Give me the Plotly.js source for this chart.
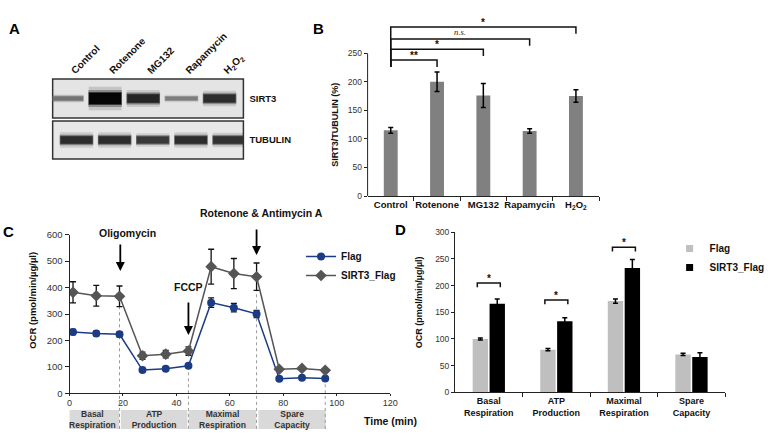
<!DOCTYPE html>
<html><head><meta charset="utf-8">
<script src="https://cdn.plot.ly/plotly-3.0.1.min.js"></script>
<style>html,body{margin:0;padding:0;background:#fff}#chart{width:770px;height:434px}</style>
</head><body><div id="chart"></div>
<script>
// ---------- Panel A : western blot (relative band intensities) ----------
const lanes = ['Control', 'Rotenone', 'MG132', 'Rapamycin', 'H<sub>2</sub>O<sub>2</sub>'];
const sirt3Band = [0.35, 1.0, 0.8, 0.3, 0.75];
const tubulinBand = [0.75, 0.75, 0.68, 0.75, 0.72];

// ---------- Panel B : SIRT3/TUBULIN (%) ----------
const treatments = ['Control', 'Rotenone', 'MG132', 'Rapamycin', 'H<sub>2</sub>O<sub>2</sub>'];
const sirt3Ratio = [115, 200, 176, 114, 175];
const sirt3RatioErr = [5, 17, 21, 4, 11];
const sigPairsB = ['Rotenone', 'MG132', 'Rapamycin', 'H<sub>2</sub>O<sub>2</sub>'];
const sigLabelsB = ['**', '*', '<i>n.s.</i>', '*'];

// ---------- Panel C : OCR time course ----------
const timeMin = [1.3, 10, 18.7, 27.3, 36, 44.5, 53, 61.5, 70, 78.5, 87, 95.7];
const flagOCR = [232, 226, 223, 88, 93, 104, 343, 324, 300, 55, 59, 56];
const flagOCRErr = [10, 9, 9, 5, 6, 6, 18, 16, 14, 4, 4, 4];
const sirt3OCR = [382, 369, 367, 142, 148, 160, 479, 453, 441, 91, 94, 87];
const sirt3OCRErr = [40, 39, 39, 14, 14, 16, 66, 57, 52, 6, 6, 5];
const phases = ['Basal<br>Respiration', 'ATP<br>Production', 'Maximal<br>Respiration', 'Spare<br>Capacity'];
const phaseStart = [-1.5, 19.2, 44.6, 70.7];
const phaseEnd = [18.6, 44.1, 69.9, 95.9];
const injections = ['Oligomycin', 'FCCP', 'Rotenone & Antimycin A'];
const injectionTime = [19, 44.5, 70];

// ---------- Panel D : OCR summary ----------
const measures = ['Basal<br>Respiration', 'ATP<br>Production', 'Maximal<br>Respiration', 'Spare<br>Capacity'];
const flagD = [100, 80, 171, 71];
const flagDErr = [2, 2, 4, 2];
const sirt3D = [166, 133, 233, 66];
const sirt3DErr = [9, 7, 16, 8];
const sigLabelsD = ['*', '*', '*', ''];

// ---------- helpers ----------
const W = 770, H = 434;
const px = v => v / W;
const py = v => 1 - v / H;
const FONT = 'Liberation Sans, Arial, Helvetica, sans-serif';
const bold = (size, color) => ({family: FONT, size: size, color: color || '#111', weight: 'bold'});
const plain = (size, color) => ({family: FONT, size: size, color: color || '#333'});

const bandThick = v => 0.15 + 0.45 * v * v;
const bandGray = v => Math.round(200 - 195 * Math.pow(v, 0.8));
const bandColor = (v, a) => { const g = bandGray(v); return `rgba(${g},${g},${g},${a})`; };
const laneIdx = lanes.map((_, i) => i);

const traces = [];

// Panel A bands: blurred edge layers + core
const blurLayers = [{k: 2.0, w: 0.86, a: 0.14}, {k: 1.45, w: 0.88, a: 0.3}, {k: 1.0, w: 0.84, a: 1}];
[[sirt3Band, 'y'], [tubulinBand, 'y2']].forEach(([band, ya]) => {
  blurLayers.forEach(L => {
    traces.push({
      type: 'bar', xaxis: 'x', yaxis: ya, x: laneIdx, offsetgroup: 'blot' + ya,
      y: band.map(v => bandThick(v) * L.k), base: band.map(v => -bandThick(v) * L.k / 2),
      width: L.w,
      marker: {color: band.map(v => bandColor(v, L.a)),
        line: L.a === 1 ? {color: band.map(v => bandColor(v, 0.5)), width: 1.5} : {width: 0}},
      showlegend: false, hoverinfo: 'skip'
    });
  });
});

// Panel B bars
const treatIdx = treatments.map((_, i) => i);
traces.push({
  type: 'bar', xaxis: 'x2', yaxis: 'y3', x: treatIdx, y: sirt3Ratio, width: 0.3,
  marker: {color: '#808080'},
  error_y: {type: 'data', array: sirt3RatioErr, color: '#000', thickness: 1.5, width: 2.5},
  showlegend: false, hoverinfo: 'skip'
});
// Panel B brackets
const bracketHeightB = [238, 257, 275, 296];
const bracketDrop = 12;
sigPairsB.forEach((name, k) => {
  const j = treatments.indexOf(name);
  const h = bracketHeightB[k];
  traces.push({
    type: 'scatter', mode: 'lines', xaxis: 'x2', yaxis: 'y3',
    x: [0, 0, j, j], y: [bracketHeightB[0] - bracketDrop, h, h, h - bracketDrop],
    line: {color: '#111', width: 1.5}, showlegend: false, hoverinfo: 'skip'
  });
});

// Panel C guides (dotted)
const guideIdx = [2, 5, 8, 11];
const guideTop = [328, 104, 389, 56];
const gx = [], gy = [], gx2 = [], gy2 = [];
guideIdx.forEach((i, k) => {
  gx.push(timeMin[i], timeMin[i], null); gy.push(0, guideTop[k], null);
  gx2.push(timeMin[i], timeMin[i], null); gy2.push(0.03, 1, null);
});
traces.push({type: 'scatter', mode: 'lines', xaxis: 'x3', yaxis: 'y4', x: gx, y: gy,
  line: {color: '#9a9a9a', width: 1, dash: 'dot'}, showlegend: false, hoverinfo: 'skip'});
traces.push({type: 'scatter', mode: 'lines', xaxis: 'x4', yaxis: 'y5', x: gx2, y: gy2,
  line: {color: '#9a9a9a', width: 1, dash: 'dot'}, showlegend: false, hoverinfo: 'skip'});
// Phase boxes
const phaseMid = phaseStart.map((s, i) => (s + phaseEnd[i]) / 2);
const phaseLen = phaseStart.map((s, i) => phaseEnd[i] - s);
traces.push({type: 'bar', xaxis: 'x4', yaxis: 'y5', x: phaseMid, width: phaseLen,
  y: phases.map(() => 0.518), base: phases.map(() => 0.027), cliponaxis: false,
  marker: {color: '#d9d9d9'}, textposition: 'none', showlegend: false, hoverinfo: 'skip'});
traces.push({type: 'scatter', mode: 'text', xaxis: 'x4', yaxis: 'y5', x: phaseMid,
  y: phases.map(() => 0.26), text: phases, textfont: bold(8.5, '#333'), cliponaxis: false,
  showlegend: false, hoverinfo: 'skip'});
// OCR lines
traces.push({
  type: 'scatter', mode: 'lines+markers', name: 'Flag', legend: 'legend',
  xaxis: 'x3', yaxis: 'y4', x: timeMin, y: flagOCR,
  line: {color: '#1c3b85', width: 1.5}, marker: {symbol: 'circle', size: 8, color: '#1c3b85'},
  error_y: {type: 'data', array: flagOCRErr, color: '#111', thickness: 1.3, width: 3},
  hoverinfo: 'skip'
});
traces.push({
  type: 'scatter', mode: 'lines+markers', name: 'SIRT3_Flag', legend: 'legend',
  xaxis: 'x3', yaxis: 'y4', x: timeMin, y: sirt3OCR,
  line: {color: '#555555', width: 1.5}, marker: {symbol: 'diamond', size: 9, color: '#555555'},
  error_y: {type: 'data', array: sirt3OCRErr, color: '#111', thickness: 1.3, width: 3},
  hoverinfo: 'skip'
});

// Panel D bars
const measIdx = measures.map((_, i) => i);
const dColors = {Flag: '#bfbfbf', SIRT3_Flag: '#000000'};
traces.push({type: 'bar', name: 'Flag', showlegend: false, xaxis: 'x5', yaxis: 'y6',
  x: measIdx, y: flagD, marker: {color: dColors.Flag},
  error_y: {type: 'data', array: flagDErr, color: '#000', thickness: 1.5, width: 2.5}, hoverinfo: 'skip'});
traces.push({type: 'bar', name: 'SIRT3_Flag', showlegend: false, xaxis: 'x5', yaxis: 'y6',
  x: measIdx, y: sirt3D, marker: {color: dColors.SIRT3_Flag},
  error_y: {type: 'data', array: sirt3DErr, color: '#000', thickness: 1.5, width: 2.5}, hoverinfo: 'skip'});
// legend keys for panel D (small squares, as in the figure)
Object.keys(dColors).forEach(n => {
  traces.push({type: 'scatter', mode: 'markers', name: n, legend: 'legend2', xaxis: 'x5', yaxis: 'y6',
    x: [null], y: [null], marker: {symbol: 'square', size: 7, color: dColors[n]}, hoverinfo: 'skip'});
});
const bracketHeightD = [205, 173, 272, null];
const bracketHalf = 0.17;
sigLabelsD.forEach((s, i) => {
  if (!s) return;
  const h = bracketHeightD[i];
  traces.push({type: 'scatter', mode: 'lines', xaxis: 'x5', yaxis: 'y6',
    x: [i - bracketHalf, i - bracketHalf, i + bracketHalf, i + bracketHalf], y: [h - 8, h, h, h - 8],
    line: {color: '#111', width: 1.5}, showlegend: false, hoverinfo: 'skip'});
});

// ---------- annotations ----------
const ann = [];
const paperText = (text, x, y, font, angle) => ({text: text, xref: 'paper', yref: 'paper', x: px(x), y: py(y),
  xanchor: 'center', yanchor: 'middle', showarrow: false, font: font, textangle: angle || 0});
[['A', 15, 29], ['B', 321, 29], ['C', 9, 231], ['D', 403, 229]].forEach(([t, x, y]) => {
  ann.push(paperText(t, x, y, bold(15, '#000')));
});
// axis titles
ann.push(paperText('SIRT3/TUBULIN (%)', 337, 125, bold(9, '#111'), -90));
ann.push(paperText('OCR (pmol/min/µg/µl)', 32, 300, bold(9.5, '#111'), -90));
ann.push(paperText('OCR (pmol/min/µg/µl)', 422, 302, bold(9, '#111'), -90));
ann.push(paperText('Time (min)', 393, 421, bold(10.5, '#111')));
// B significance labels
sigPairsB.forEach((name, k) => {
  const j = treatments.indexOf(name);
  const isNS = sigLabelsB[k].indexOf('n.s.') >= 0;
  ann.push({text: sigLabelsB[k], xref: 'x2', yref: 'y3', x: j / 2, y: bracketHeightB[k],
    xanchor: 'center', yanchor: 'bottom', showarrow: false, yshift: isNS ? 0 : -3,
    font: isNS ? {family: 'Liberation Serif, Times New Roman, serif', size: 8.5, color: '#222'} : bold(10, '#111')});
});
// D significance labels
sigLabelsD.forEach((s, i) => {
  if (!s) return;
  ann.push({text: s, xref: 'x5', yref: 'y6', x: i, y: bracketHeightD[i], xanchor: 'center', yanchor: 'bottom',
    yshift: -3, showarrow: false, font: bold(10, '#111')});
});
// C injection arrows
const arrowTipOCR = [463, 221, 523];
const arrowLenPx = [28, 34, 27];
const labelGapPx = [2, 6, 7];
const labelShiftPx = [7, 0, 5];
injections.forEach((t, i) => {
  ann.push({text: '', xref: 'x3', yref: 'y4', x: injectionTime[i], y: arrowTipOCR[i],
    ax: 0, ay: -arrowLenPx[i], showarrow: true, arrowhead: 2, arrowsize: 1, arrowwidth: 1.8,
    arrowcolor: '#000', standoff: 0});
  ann.push({text: t, xref: 'x3', yref: 'y4', x: injectionTime[i], y: arrowTipOCR[i],
    yshift: arrowLenPx[i] + labelGapPx[i], xshift: labelShiftPx[i], xanchor: 'center', yanchor: 'bottom',
    showarrow: false, font: bold(10.5, '#111')});
});

const noAxis = {showgrid: false, zeroline: false, fixedrange: true};
const layout = {
  width: W, height: H,
  margin: {l: 0, r: 0, t: 0, b: 0},
  paper_bgcolor: '#ffffff', plot_bgcolor: 'rgba(0,0,0,0)',
  font: plain(9),
  barmode: 'group', bargap: 0.5, bargroupgap: 0.09,
  hovermode: false,
  // Panel A
  xaxis: Object.assign({domain: [px(53), px(245)], anchor: 'y', range: [-0.5, 4.5], side: 'top',
    tickvals: laneIdx, ticktext: lanes, tickangle: -45, ticks: '', showline: false,
    tickfont: bold(10, '#111')}, noAxis),
  yaxis: Object.assign({domain: [py(118), py(79)], anchor: 'x', range: [-1, 1], side: 'right',
    tickvals: [0], ticktext: ['SIRT3'], ticks: '', showline: false, ticklabelstandoff: 5,
    tickfont: bold(9.5, '#111')}, noAxis),
  yaxis2: Object.assign({domain: [py(159), py(121)], anchor: 'x', range: [-1, 1], side: 'right',
    tickvals: [0], ticktext: ['TUBULIN'], ticks: '', showline: false, ticklabelstandoff: 5,
    tickfont: bold(9.5, '#111')}, noAxis),
  // Panel B
  xaxis2: Object.assign({domain: [px(370), px(603)], anchor: 'y3', range: [-0.5, 4.5],
    tickvals: treatIdx, ticktext: treatments, ticks: '', showline: true, linecolor: '#222', linewidth: 1,
    minor: {tickvals: [0.5, 1.5, 2.5, 3.5, 4.5], ticks: 'outside', ticklen: 4, tickcolor: '#222', tickwidth: 1},
    tickfont: bold(9.5, '#111')}, noAxis),
  yaxis3: Object.assign({domain: [py(196), py(19)], anchor: 'x2', range: [0, 310],
    tickvals: [0, 50, 100, 150, 200, 250], ticks: 'outside', ticklen: 3, tickcolor: '#222',
    showline: false, tickfont: plain(8.5, '#333')}, noAxis),
  // Panel C
  xaxis3: Object.assign({domain: [px(70), px(392.7)], anchor: 'y4', range: [0, 120], tick0: 0, dtick: 20,
    ticks: 'outside', ticklen: 2, tickcolor: '#222', showline: true, linecolor: '#222', linewidth: 1,
    ticklabelstandoff: -1, tickfont: plain(9, '#333')}, noAxis),
  yaxis4: Object.assign({domain: [py(393.3), py(234.7)], anchor: 'x3', range: [0, 600], tick0: 0, dtick: 100,
    ticks: 'outside', ticklen: 4, tickcolor: '#222', showline: true, linecolor: '#222', linewidth: 1,
    tickfont: plain(9.5, '#333')}, noAxis),
  xaxis4: Object.assign({domain: [px(70), px(392.7)], anchor: 'y5', range: [0, 120], visible: false}, noAxis),
  yaxis5: Object.assign({domain: [py(430), py(393.3)], anchor: 'x4', range: [0, 1], visible: false}, noAxis),
  // Panel D
  xaxis5: Object.assign({domain: [px(458), px(730)], anchor: 'y6', range: [-0.5, 3.5],
    tickvals: measIdx, ticktext: measures, ticks: '', showline: true, linecolor: '#222', linewidth: 1,
    minor: {tickvals: [0.5, 1.5, 2.5, 3.5], ticks: 'outside', ticklen: 4, tickcolor: '#222', tickwidth: 1},
    tickfont: bold(9, '#111')}, noAxis),
  yaxis6: Object.assign({domain: [py(392.3), py(232.3)], anchor: 'x5', range: [0, 300], tick0: 0, dtick: 50,
    ticks: 'outside', ticklen: 3, tickcolor: '#222', showline: true, linecolor: '#222', linewidth: 1,
    tickfont: plain(8.5, '#333')}, noAxis),
  legend: {x: px(303), y: py(242), xanchor: 'left', yanchor: 'top', font: bold(10, '#111'),
    bgcolor: 'rgba(0,0,0,0)', itemwidth: 30, tracegroupgap: 0},
  legend2: {x: px(674), y: py(234), xanchor: 'left', yanchor: 'top', font: bold(10, '#111'),
    bgcolor: 'rgba(0,0,0,0)', itemwidth: 30, tracegroupgap: 0},
  shapes: [
    {type: 'rect', xref: 'x domain', yref: 'y domain', x0: 0, x1: 1, y0: 0, y1: 1, layer: 'below',
      fillcolor: '#e4e4e4', line: {color: '#333', width: 1.5}},
    {type: 'rect', xref: 'x domain', yref: 'y2 domain', x0: 0, x1: 1, y0: 0, y1: 1, layer: 'below',
      fillcolor: '#e8e8e8', line: {color: '#333', width: 1.5}},
    {type: 'line', xref: 'x2 domain', yref: 'y3', x0: 0, x1: 0, y0: 0, y1: 250,
      line: {color: '#222', width: 1}}
  ],
  annotations: ann
};

Plotly.newPlot('chart', traces, layout, {staticPlot: true, displayModeBar: false});
</script>
</body></html>
